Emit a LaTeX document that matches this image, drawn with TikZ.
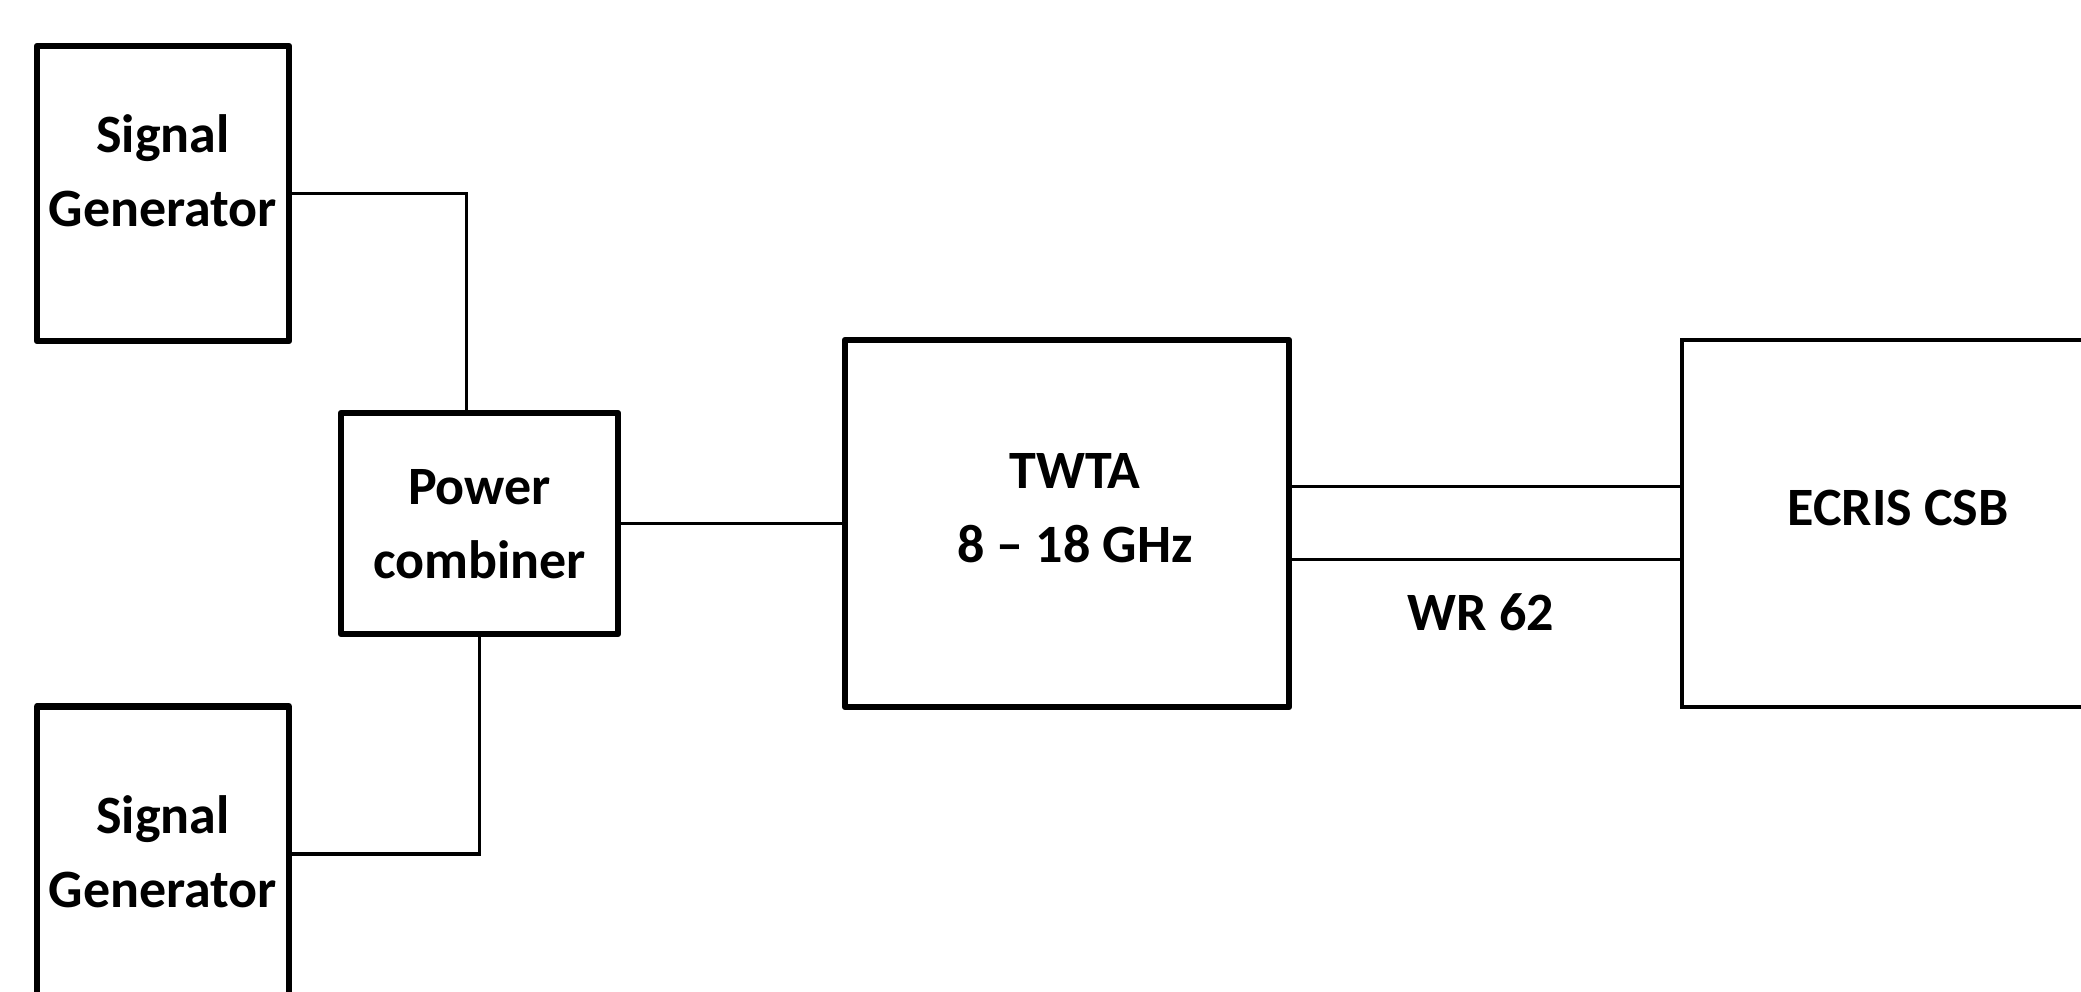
\documentclass[tikz,border=0pt]{standalone}
\usepackage{fontspec}
\setmainfont{Carlito}
\begin{document}
\begin{tikzpicture}[x=1pt,y=-1pt,
  thickbox/.style={draw=black,line width=6.5pt,line join=round,minimum width=#1,inner sep=0pt},
  thinbox/.style={draw=black,line width=3.5pt,inner sep=0pt},
  lbl/.style={font=\bfseries\fontsize{54}{74}\selectfont,align=center,inner sep=0pt},
  wire/.style={line width=3.5pt}]
\useasboundingbox[fill=white] (0,0) rectangle (2081,992);
\begin{scope}
\clip (0,0) rectangle (2081,992);
\node[thickbox=252pt,minimum height=295pt] (sg1) at (163,193.5) {};
\node[thickbox=252pt,minimum height=295pt] (sg2) at (163,854) {};
\node[thickbox=277pt,minimum height=221pt] (pc) at (479.5,523.5) {};
\node[thickbox=444pt,minimum height=367pt] (twta) at (1067,523.5) {};
\node[thinbox,minimum width=432pt,minimum height=367pt] (ecris) at (1898,523.5) {};
\end{scope}
\node[lbl] (sg1t) at (163,171) {Signal\\Generator};
\node[lbl] (sg2t) at (163,852) {Signal\\Generator};
\node[lbl] (pct) at (479.5,524) {Power\\combiner};
\node[lbl] (twtat) at (1075,508) {TWTA\\8 – 18 GHz};
\node[lbl] (ecrist) at (1898,508) {ECRIS CSB};
\node[lbl] (wr) at (1481,612) {WR 62};
\draw[wire] (sg1.east) -| ([xshift=-13pt]pc.north);
\draw[wire] (sg2.east) -| (pc.south);
\draw[wire] (pc.east) -- (twta.west);
\draw[wire] ([yshift=-36pt]twta.east) -- ([yshift=-36pt]ecris.west);
\draw[wire] ([yshift=37pt]twta.east) -- ([yshift=37pt]ecris.west);
\end{tikzpicture}
\end{document}
